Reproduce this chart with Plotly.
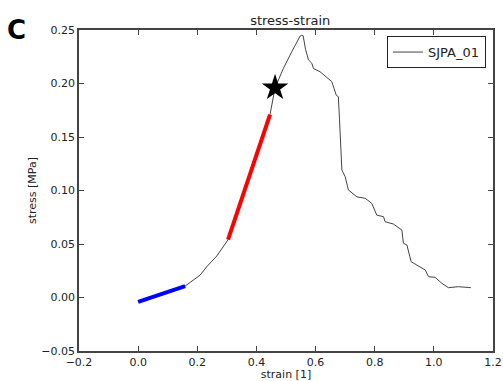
import plotly.graph_objects as go

strain = [0.159, 0.18, 0.21, 0.232, 0.266, 0.304, 0.35, 0.40, 0.446, 0.463, 0.491, 0.52, 0.548,
          0.553, 0.558, 0.566, 0.576, 0.587, 0.593, 0.615, 0.655, 0.670, 0.677, 0.681, 0.689, 0.700,
          0.711, 0.740, 0.768, 0.790, 0.807, 0.830, 0.835, 0.863, 0.892, 0.897, 0.909, 0.923,
          0.971, 0.982, 1.004, 1.027, 1.049, 1.083, 1.125]
stress = [0.0107, 0.015, 0.021, 0.0288, 0.0388, 0.054, 0.092, 0.133, 0.171, 0.196, 0.214, 0.230, 0.2444,
          0.245, 0.2446, 0.232, 0.222, 0.219, 0.214, 0.211, 0.2017, 0.189, 0.1877, 0.166, 0.119, 0.113,
          0.1005, 0.094, 0.0927, 0.088, 0.077, 0.0755, 0.0708, 0.0687, 0.063, 0.0507, 0.049, 0.0335,
          0.0257, 0.0194, 0.0189, 0.0133, 0.0092, 0.0101, 0.0092]

blue_x = [0.0, 0.159]
blue_y = [-0.004, 0.0107]
red_x = [0.304, 0.446]
red_y = [0.054, 0.171]
star_x = [0.463]
star_y = [0.196]

fig = go.Figure()
fig.add_trace(go.Scatter(x=strain, y=stress, mode="lines", name="SJPA_01",
                         line=dict(color="#444444", width=1)))
fig.add_trace(go.Scatter(x=blue_x, y=blue_y, mode="lines", showlegend=False,
                         line=dict(color="#0000ff", width=4)))
fig.add_trace(go.Scatter(x=red_x, y=red_y, mode="lines", showlegend=False,
                         line=dict(color="#ff0000", width=4)))
fig.add_trace(go.Scatter(x=star_x, y=star_y, mode="markers", showlegend=False,
                         marker=dict(symbol="star", size=20, color="black")))

axis_common = dict(showline=True, linecolor="#444444", linewidth=1.5, mirror="allticks",
                   ticks="inside", ticklen=5, tickcolor="#444444", showgrid=False, zeroline=False,
                   automargin=False, tickfont=dict(size=11, color="#222222"))

fig.update_xaxes(range=[-0.2, 1.2], tickvals=[-0.2, 0, 0.2, 0.4, 0.6, 0.8, 1.0, 1.2],
                 tickformat=".1f", title=dict(text="strain [1]", font=dict(size=11, color="#222222"), standoff=4),
                 **axis_common)
fig.update_yaxes(range=[-0.05, 0.25], tickvals=[-0.05, 0, 0.05, 0.1, 0.15, 0.2, 0.25],
                 tickformat=".2f", title=dict(text="stress [MPa]", font=dict(size=11, color="#222222"), standoff=2),
                 **axis_common)

fig.update_layout(
    width=503, height=381,
    margin=dict(l=79, r=10, t=30, b=30),
    paper_bgcolor="white", plot_bgcolor="white",
    font=dict(family="DejaVu Sans", color="#222222"),
    title=dict(text="stress-strain", x=0.577, xanchor="center", y=1 - 20 / 381, yanchor="middle",
               font=dict(size=13, color="#222222")),
    legend=dict(x=0.983, y=0.981, xanchor="right", yanchor="top", bordercolor="#222222",
                borderwidth=1, bgcolor="white", font=dict(size=13, color="#222222")),
    annotations=[dict(text="<b>C</b>", xref="paper", yref="paper", x=-0.15, y=1.0,
                      xanchor="center", yanchor="middle", showarrow=False,
                      font=dict(size=26, color="black"))],
)

fig.write_html("out.html")
